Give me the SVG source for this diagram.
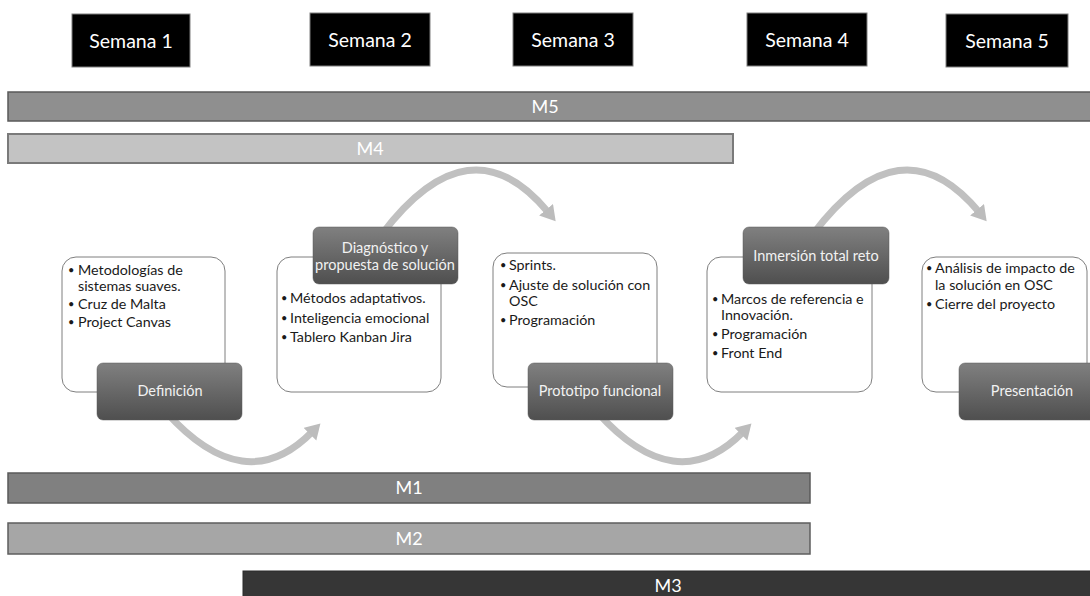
<svg xmlns="http://www.w3.org/2000/svg" width="1090" height="596" viewBox="0 0 1090 596">
<defs>
<linearGradient id="lblGrad" x1="0" y1="0" x2="0" y2="1">
<stop offset="0" stop-color="#808080"/>
<stop offset="1" stop-color="#4f4f4f"/>
</linearGradient>
<marker id="head" markerUnits="userSpaceOnUse" markerWidth="20" markerHeight="20" refX="3" refY="9" orient="auto">
<path d="M0,0 L15,9 L0,18 Z" fill="#bcbcbc"/>
</marker>
<style>
text { font-family: Lato, "Liberation Sans", Arial, sans-serif; }
.week rect { fill: #000000; stroke: #7f7f7f; stroke-width: 1; }
.week text { fill: #ffffff; font-size: 19.5px; text-anchor: middle; }
.bar text { fill: #ffffff; font-size: 18px; text-anchor: middle; }
.card { fill: #ffffff; stroke: #7f7f7f; stroke-width: 1; }
.lbl { fill: url(#lblGrad); stroke: #5a5a5a; stroke-width: 0.5; }
.lbltxt { fill: #f2f2f2; font-size: 14.5px; text-anchor: middle; }
.bul { fill: #1a1a1a; font-size: 14.3px; }
.dot { fill: #1a1a1a; font-size: 11px; }
.arc { fill: none; stroke: #c0c0c0; stroke-width: 7; marker-end: url(#head); }
</style>
</defs>
<rect width="1090" height="596" fill="#ffffff"/>

<g id="semana1" class="week"><rect x="72" y="14" width="118" height="53"/><text x="131" y="48">Semana 1</text></g>
<g id="semana2" class="week"><rect x="310" y="13" width="120" height="53"/><text x="370" y="47">Semana 2</text></g>
<g id="semana3" class="week"><rect x="513" y="13" width="120" height="53"/><text x="573" y="47">Semana 3</text></g>
<g id="semana4" class="week"><rect x="747" y="13" width="120" height="53"/><text x="807" y="47">Semana 4</text></g>
<g id="semana5" class="week"><rect x="946" y="14" width="122" height="53"/><text x="1007" y="48">Semana 5</text></g>

<g id="m5" class="bar"><rect x="8" y="92" width="1090" height="29" fill="#8f8f8f" stroke="#5a5a5a" stroke-width="1.5"/><text x="545" y="113">M5</text></g>
<g id="m4" class="bar"><rect x="8" y="134" width="725" height="29" fill="#c3c3c3" stroke="#7a7a7a" stroke-width="2"/><text x="370" y="155">M4</text></g>
<g id="m1" class="bar"><rect x="8" y="473" width="802" height="30" fill="#808080" stroke="#5a5a5a" stroke-width="1.5"/><text x="409" y="494">M1</text></g>
<g id="m2" class="bar"><rect x="8" y="523" width="802" height="31" fill="#a6a6a6" stroke="#5e5e5e" stroke-width="1.5"/><text x="409" y="545">M2</text></g>
<g id="m3" class="bar"><rect x="243" y="571" width="860" height="30" fill="#363636" stroke="#2a2a2a" stroke-width="1"/><text x="668" y="592">M3</text></g>

<g id="connectors">
<path class="arc" d="M166,412 Q245,500 312,432"/>
<path class="arc" d="M382,234 Q470,118 548,212"/>
<path class="arc" d="M597,412 Q676,500 743,432"/>
<path class="arc" d="M813,234 Q901,118 979,212"/>
</g>

<g id="definicion">
<rect class="card" x="62" y="257" width="163" height="135" rx="14"/>
<text class="dot" x="68" y="274">•</text><text class="bul" x="78" y="275">Metodologías de</text>
<text class="bul" x="78" y="291">sistemas suaves.</text>
<text class="dot" x="68" y="308">•</text><text class="bul" x="78" y="309">Cruz de Malta</text>
<text class="dot" x="68" y="326">•</text><text class="bul" x="78" y="327">Project Canvas</text>
<rect class="lbl" x="97" y="363" width="145" height="57" rx="6"/>
<text class="lbltxt" x="170" y="396">Definición</text>
</g>

<g id="diagnostico">
<rect class="card" x="277" y="257" width="164" height="135" rx="14"/>
<text class="dot" x="281" y="302">•</text><text class="bul" x="290" y="303">Métodos adaptativos.</text>
<text class="dot" x="281" y="322">•</text><text class="bul" x="290" y="323">Inteligencia emocional</text>
<text class="dot" x="281" y="341">•</text><text class="bul" x="290" y="342">Tablero Kanban Jira</text>
<rect class="lbl" x="313" y="227" width="145" height="57" rx="6"/>
<text class="lbltxt" x="385" y="253">Diagnóstico y</text>
<text class="lbltxt" x="385" y="270">propuesta de solución</text>
</g>

<g id="prototipo">
<rect class="card" x="493" y="253" width="164" height="134" rx="14"/>
<text class="dot" x="500" y="269">•</text><text class="bul" x="509" y="270">Sprints.</text>
<text class="dot" x="500" y="289">•</text><text class="bul" x="509" y="290">Ajuste de solución con</text>
<text class="bul" x="509" y="306">OSC</text>
<text class="dot" x="500" y="324">•</text><text class="bul" x="509" y="325">Programación</text>
<rect class="lbl" x="528" y="363" width="145" height="57" rx="6"/>
<text class="lbltxt" x="600" y="396">Prototipo funcional</text>
</g>

<g id="inmersion">
<rect class="card" x="707" y="257" width="165" height="135" rx="14"/>
<text class="dot" x="712" y="303">•</text><text class="bul" x="721" y="304">Marcos de referencia e</text>
<text class="bul" x="721" y="320">Innovación.</text>
<text class="dot" x="712" y="338">•</text><text class="bul" x="721" y="339">Programación</text>
<text class="dot" x="712" y="357">•</text><text class="bul" x="721" y="358">Front End</text>
<rect class="lbl" x="743" y="227" width="146" height="57" rx="6"/>
<text class="lbltxt" x="816" y="261">Inmersión total reto</text>
</g>

<g id="presentacion">
<rect class="card" x="922" y="257" width="165" height="135" rx="14"/>
<text class="dot" x="926" y="272">•</text><text class="bul" x="935" y="273">Análisis de impacto de</text>
<text class="bul" x="935" y="290">la solución en OSC</text>
<text class="dot" x="926" y="308">•</text><text class="bul" x="935" y="309">Cierre del proyecto</text>
<rect class="lbl" x="959" y="363" width="146" height="57" rx="6"/>
<text class="lbltxt" x="1032" y="396">Presentación</text>
</g>
</svg>
